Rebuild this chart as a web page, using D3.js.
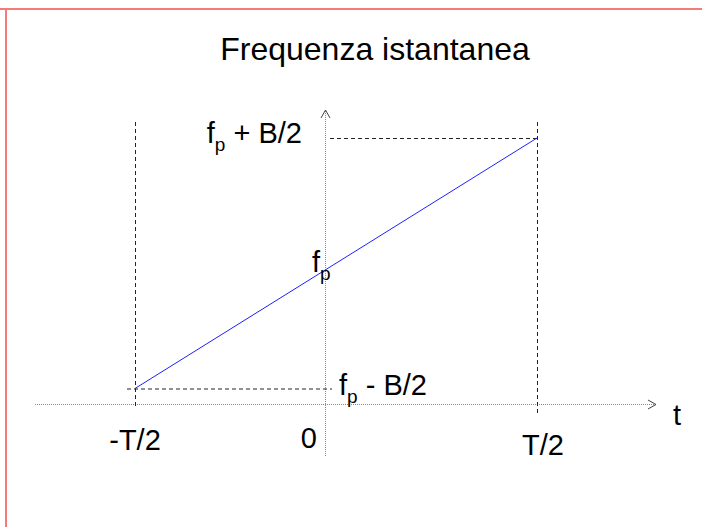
<!DOCTYPE html>
<html>
<head>
<meta charset="utf-8">
<script src="https://cdn.jsdelivr.net/npm/d3@7"></script>
<style>
  body { margin: 0; background: #fff; }
  svg { display: block; font-family: "Liberation Sans", Arial, sans-serif; }
</style>
</head>
<body>
<div id="chart"></div>
<script>
// time ticks (fraction of T) and their labels
const tValues = [-0.5, 0, 0.5];
const tLabels = ["-T/2", "0", "T/2"];
// frequency levels (in units of B around f_p)
const fValues = [-0.5, 0, 0.5];
const fSigns = [" - B/2", "", " + B/2"];
// instantaneous frequency sweep: start / end points
const sweepT = [-0.5, 0.5];
const sweepF = [-0.5, 0.5];

const width = 702, height = 527;
const axisY = 404;

const svg = d3.select("#chart").append("svg")
    .attr("width", width)
    .attr("height", height);

// frame lines (top and left only)
svg.append("line").attr("x1", 0).attr("x2", width).attr("y1", 9).attr("y2", 9)
    .attr("stroke", "#f27b7b").attr("stroke-width", 2);
svg.append("line").attr("x1", 6).attr("x2", 6).attr("y1", 8).attr("y2", height)
    .attr("stroke", "#f27b7b").attr("stroke-width", 2);

const x = d3.scaleLinear().domain([-0.5, 0, 0.5]).range([135, 325, 537]);
const y = d3.scaleLinear().domain([-0.5, 0.5]).range([388.5, 138]);

svg.append("text")
    .attr("x", 375).attr("y", 60)
    .attr("text-anchor", "middle")
    .style("font-size", "32px")
    .text("Frequenza istantanea");

// axes (dotted grey)
const axisStyle = g => g.attr("stroke", "#8a8a8a").attr("stroke-width", 1)
    .attr("stroke-dasharray", "1,1").attr("fill", "none");
svg.append("line").attr("x1", 35).attr("x2", 656)
    .attr("y1", axisY + 0.5).attr("y2", axisY + 0.5).call(axisStyle);
svg.append("line").attr("x1", x(0) + 0.5).attr("x2", x(0) + 0.5)
    .attr("y1", 111).attr("y2", 457).call(axisStyle);

// arrow heads
svg.append("path")
    .attr("d", `M648,${axisY - 4} L656,${axisY + 0.5} L648,${axisY + 5}`)
    .attr("stroke", "#444").attr("fill", "none").attr("stroke-width", 1);
svg.append("path")
    .attr("d", `M${x(0) - 4},118 L${x(0) + 0.5},110 L${x(0) + 5},118`)
    .attr("stroke", "#444").attr("fill", "none").attr("stroke-width", 1);

// dashed guides
const dash = g => g.attr("stroke", "#222").attr("stroke-width", 1)
    .attr("stroke-dasharray", "4,3").attr("fill", "none");
svg.append("line").attr("x1", x(-0.5) + 0.5).attr("x2", x(-0.5) + 0.5)
    .attr("y1", 122).attr("y2", 409).call(dash);
svg.append("line").attr("x1", x(0.5) + 0.5).attr("x2", x(0.5) + 0.5)
    .attr("y1", 122).attr("y2", 416).call(dash);
svg.append("line").attr("x1", x(0) + 5).attr("x2", x(0.5))
    .attr("y1", y(0.5) + 0.5).attr("y2", y(0.5) + 0.5).call(dash);
svg.append("line").attr("x1", x(-0.5) - 8).attr("x2", x(0) + 7)
    .attr("y1", y(-0.5) + 0.5).attr("y2", y(-0.5) + 0.5).call(dash);

// the sweep
svg.append("path")
    .datum(d3.zip(sweepT, sweepF))
    .attr("d", d3.line().x(d => x(d[0])).y(d => y(d[1])))
    .attr("stroke", "#1f1fff").attr("stroke-width", 1).attr("fill", "none");

// time labels
const tPos = [
    { dx: 0, y: 450, anchor: "middle" },
    { dx: -8, y: 448, anchor: "end" },
    { dx: 6, y: 455, anchor: "middle" }
];
svg.selectAll("text.tlab")
    .data(tValues)
    .enter()
    .append("text")
    .attr("class", "tlab")
    .attr("x", (d, i) => x(d) + tPos[i].dx)
    .attr("y", (d, i) => tPos[i].y)
    .attr("text-anchor", (d, i) => tPos[i].anchor)
    .style("font-size", "29px")
    .text((d, i) => tLabels[i]);

svg.append("text")
    .attr("x", 673).attr("y", 425)
    .style("font-size", "29px")
    .text("t");

// frequency labels with subscript p
const fPos = [
    { x: x(0) + 14, dy: 6.5, anchor: "start" },
    { x: x(0) - 13, dy: 9, anchor: "start" },
    { x: x(0) - 23, dy: 5, anchor: "end" }
];
fValues.forEach((v, i) => {
    const t = svg.append("text")
        .attr("x", fPos[i].x)
        .attr("y", y(v) + fPos[i].dy)
        .attr("text-anchor", fPos[i].anchor)
        .style("font-size", "29px");
    t.append("tspan").text("f");
    t.append("tspan").attr("dy", 8).style("font-size", "19px").text("p");
    if (fSigns[i]) t.append("tspan").attr("dy", -8).text(fSigns[i]);
});
</script>
</body>
</html>
